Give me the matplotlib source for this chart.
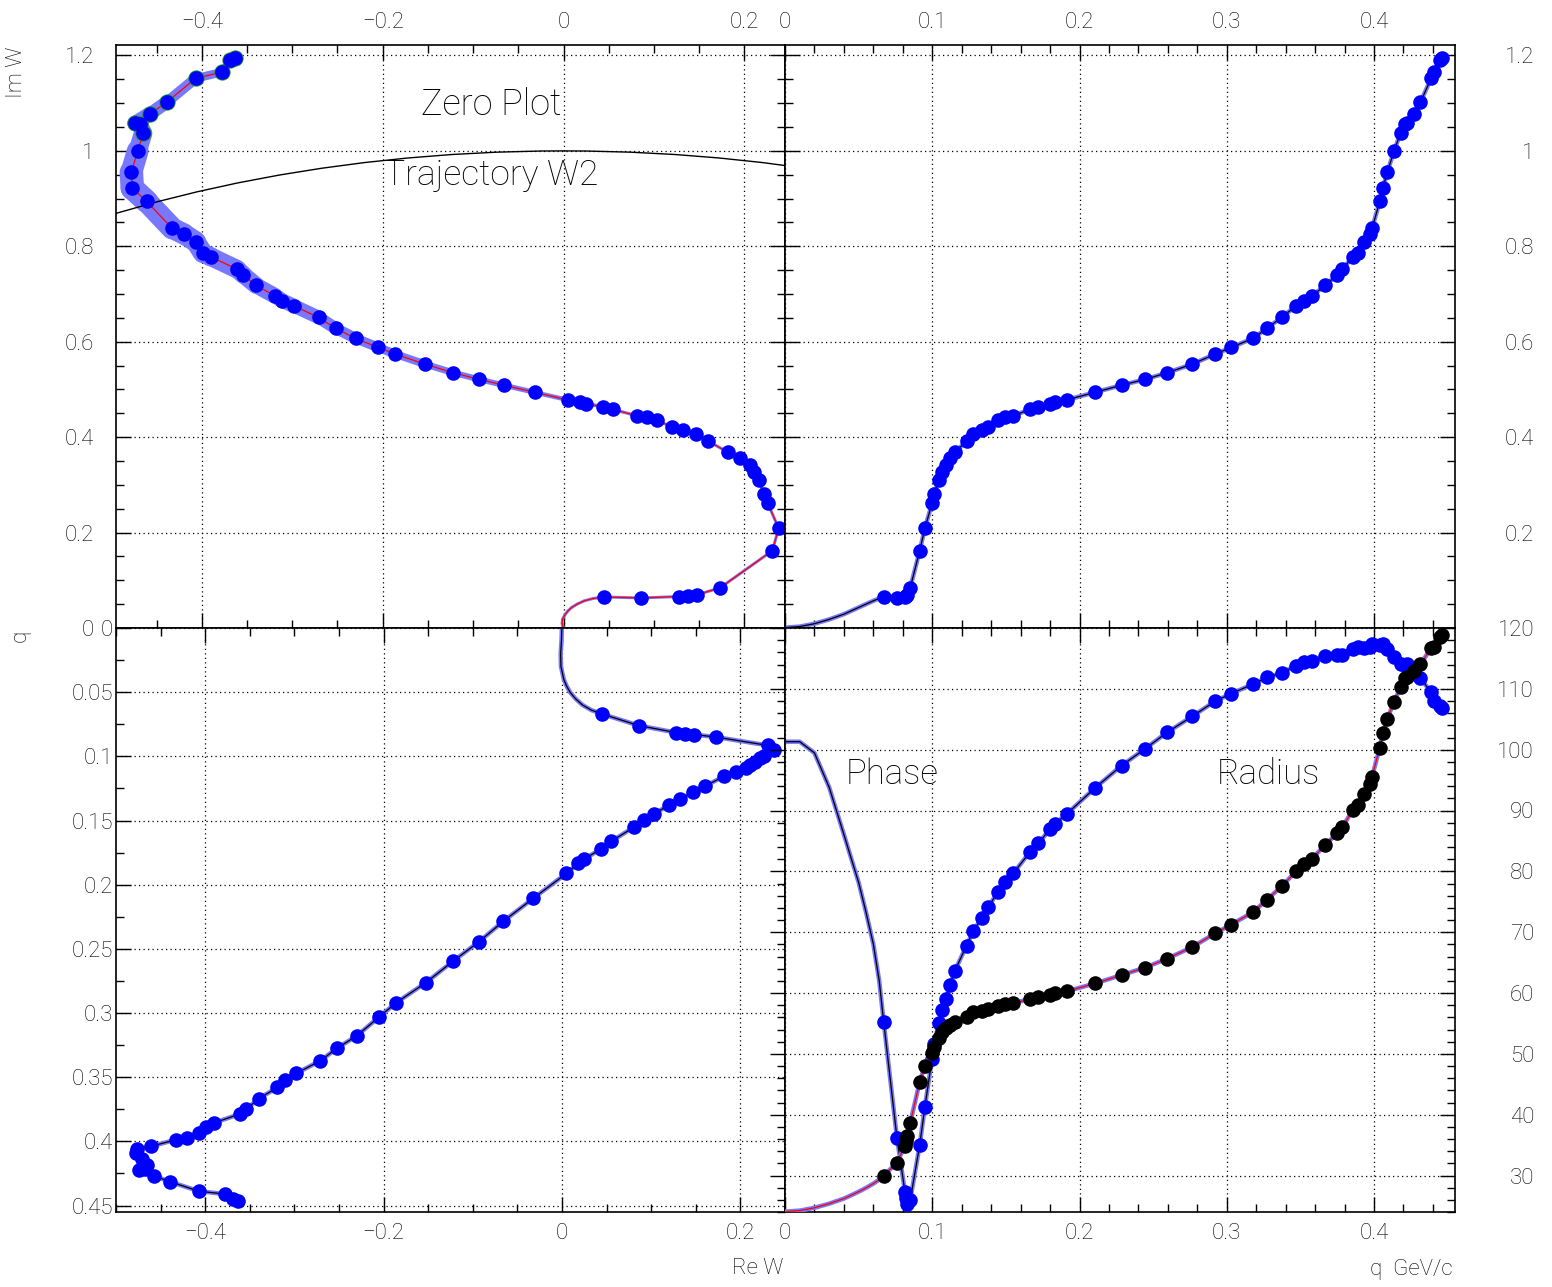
import numpy as np
import matplotlib.pyplot as plt
from matplotlib.ticker import MultipleLocator, FuncFormatter
from matplotlib.collections import LineCollection
from matplotlib.patches import Circle

plt.rcParams['font.family'] = ['Roboto', 'DejaVu Sans']
plt.rcParams['font.weight'] = 'light'

# smooth part of the zero trajectory below the first measured point
q_fit = [0.001, 0.01, 0.02, 0.03, 0.04, 0.045, 0.05, 0.055, 0.06, 0.064]
re_fit = [-0.0002, -0.0006, -0.0015, -0.0012, 0.002, 0.005, 0.009, 0.015, 0.023, 0.033]
im_fit = [0.001, 0.003, 0.009, 0.018, 0.029, 0.036, 0.043, 0.050, 0.057, 0.062]

# measured zeros W(q)
q_pts = [0.067, 0.076, 0.0815, 0.0824, 0.083, 0.085, 0.0915, 0.095, 0.0998, 0.1012,
         0.1045, 0.1068, 0.109, 0.112, 0.1154, 0.1233, 0.1278, 0.1335, 0.138, 0.1448,
         0.1494, 0.155, 0.1663, 0.172, 0.18, 0.1833, 0.1912, 0.2105, 0.2286, 0.2444,
         0.2595, 0.2765, 0.292, 0.303, 0.3177, 0.3273, 0.3372, 0.347, 0.3525, 0.358,
         0.3666, 0.375, 0.3786, 0.3855, 0.3888, 0.3935, 0.3973, 0.3987, 0.4039, 0.406,
         0.409, 0.4136, 0.418, 0.4212, 0.4225, 0.427, 0.4315, 0.4388, 0.441, 0.4445,
         0.4465]
re_pts = [0.045, 0.086, 0.128, 0.138, 0.148, 0.173, 0.231, 0.238, 0.226, 0.222,
          0.216, 0.211, 0.206, 0.195, 0.182, 0.160, 0.147, 0.132, 0.120, 0.103,
          0.092, 0.081, 0.055, 0.044, 0.025, 0.018, 0.005, -0.032, -0.066, -0.093,
          -0.122, -0.153, -0.186, -0.205, -0.230, -0.252, -0.271, -0.298, -0.311, -0.319,
          -0.340, -0.354, -0.361, -0.390, -0.399, -0.407, -0.420, -0.433, -0.461, -0.477,
          -0.478, -0.471, -0.465, -0.468, -0.474, -0.457, -0.439, -0.407, -0.378, -0.369,
          -0.363]
im_pts = [0.065, 0.063, 0.066, 0.068, 0.070, 0.084, 0.162, 0.209, 0.261, 0.280,
          0.310, 0.328, 0.342, 0.356, 0.368, 0.392, 0.407, 0.415, 0.422, 0.435,
          0.442, 0.445, 0.458, 0.464, 0.4696, 0.473, 0.478, 0.494, 0.509, 0.521,
          0.535, 0.553, 0.574, 0.588, 0.607, 0.628, 0.651, 0.675, 0.686, 0.696,
          0.718, 0.740, 0.752, 0.778, 0.786, 0.810, 0.826, 0.838, 0.894, 0.922,
          0.955, 1.000, 1.037, 1.057, 1.058, 1.078, 1.102, 1.152, 1.165, 1.190,
          1.195]

q_pts = np.array(q_pts)
re_pts = np.array(re_pts)
im_pts = np.array(im_pts)
q_all = np.concatenate([q_fit, q_pts])
re_all = np.concatenate([re_fit, re_pts])
im_all = np.concatenate([im_fit, im_pts])

# phase in degrees and modulus of W
phase_all = np.degrees(np.arctan2(im_all, re_all))
phase_pts = np.degrees(np.arctan2(im_pts, re_pts))
radius_all = np.hypot(re_all, im_all)
radius_pts = np.hypot(re_pts, im_pts)

BLUE = '#0000ff'
BAND = '#7878ff'
MS = 10.5
GRID = dict(color='black', linestyle=(0, (1, 2.6)), linewidth=0.9)


def fmt(v, pos):
    s = '%g' % round(v, 6)
    return s.replace('-', '\u2212')


def fmt_nozero(v, pos):
    return '' if abs(v) < 1e-9 else fmt(v, pos)


def frame(ax):
    ax.tick_params(which='both', direction='in', top=True, bottom=True,
                   left=True, right=True, labelsize=16, width=1.0)
    ax.tick_params(which='major', length=11)
    ax.tick_params(which='minor', length=5.5)
    ax.grid(which='major', **GRID)
    ax.set_axisbelow(True)
    for sp in ax.spines.values():
        sp.set_linewidth(1.2)
    ax.xaxis.set_major_formatter(FuncFormatter(fmt))
    ax.yaxis.set_major_formatter(FuncFormatter(fmt))


def band(ax, x, y, widths, color):
    pts = np.column_stack([x, y])
    segs = np.stack([pts[:-1], pts[1:]], axis=1)
    w = 0.5 * (widths[:-1] + widths[1:])
    lc = LineCollection(segs, linewidths=w, colors=color, capstyle='round',
                        joinstyle='round', zorder=1)
    ax.add_collection(lc)


fig = plt.figure(figsize=(15.52, 12.87), dpi=100)
W_px, H_px = 1552, 1287
x0, xm, x1 = 116, 785, 1455
y0, ym, y1 = 45, 628, 1212
left_w = (xm - x0) / W_px
right_w = (x1 - xm) / W_px
top_h = (ym - y0) / H_px
bot_h = (y1 - ym) / H_px
rect_tl = [x0 / W_px, 1 - ym / H_px, left_w, top_h]
rect_tr = [xm / W_px, 1 - ym / H_px, right_w, top_h]
rect_bl = [x0 / W_px, 1 - y1 / H_px, left_w, bot_h]
rect_br = [xm / W_px, 1 - y1 / H_px, right_w, bot_h]

ax_tl = fig.add_axes(rect_tl)
ax_tr = fig.add_axes(rect_tr)
ax_bl = fig.add_axes(rect_bl)
ax_br = fig.add_axes(rect_br)

# ---- top left: zero plot, Im W against Re W
ax = ax_tl
frame(ax)
ax.set_xlim(-0.495, 0.245)
ax.set_ylim(0, 1.222)
ax.xaxis.set_major_locator(MultipleLocator(0.2))
ax.xaxis.set_minor_locator(MultipleLocator(0.05))
ax.yaxis.set_major_locator(MultipleLocator(0.2))
ax.yaxis.set_minor_locator(MultipleLocator(0.05))
ax.tick_params(axis='x', labeltop=True, labelbottom=False, pad=9)
ax.tick_params(axis='y', labelleft=True, pad=16)
band_px = np.interp(im_all, [0.0, 0.45, 0.55, 0.65, 0.75, 0.85, 0.95, 1.05, 1.15, 1.22],
                    [3, 3, 7, 13, 18, 22, 24, 16, 9, 5])
band(ax, re_all, im_all, band_px / 1.389, BAND)
ax.add_patch(Circle((0, 0), 1.0, fill=False, edgecolor='black', linewidth=1.0, zorder=2))
ax.plot(re_all, im_all, color='red', lw=0.9, zorder=3)
high = im_pts > 1.03
ax.plot(re_pts[high], im_pts[high], 'o', color='#1c9a1c', ms=MS + 1.2, mew=0, zorder=4)
ax.plot(re_pts, im_pts, 'o', color=BLUE, ms=MS, mew=0, zorder=5)
ax.text(-0.08, 1.096, 'Zero Plot', fontsize=26, ha='center', va='center')
ax.text(-0.08, 0.950, 'Trajectory W2', fontsize=25.5, ha='center', va='center')

# ---- top right: Im W against q
ax = ax_tr
frame(ax)
ax.set_xlim(0, 0.455)
ax.set_ylim(0, 1.222)
ax.xaxis.set_major_locator(MultipleLocator(0.1))
ax.xaxis.set_minor_locator(MultipleLocator(0.02))
ax.yaxis.set_major_locator(MultipleLocator(0.2))
ax.yaxis.set_minor_locator(MultipleLocator(0.05))
ax.yaxis.set_major_formatter(FuncFormatter(fmt_nozero))
ax.tick_params(axis='x', labeltop=True, labelbottom=False, pad=9)
ax.tick_params(axis='y', labelleft=False, labelright=True, pad=57)
ax.plot(q_all, im_all, color=BAND, lw=3.2, zorder=1)
ax.plot(q_all, im_all, color='black', lw=0.9, zorder=3)
ax.plot(q_pts, im_pts, 'o', color=BLUE, ms=MS, mew=0, zorder=5)

# ---- bottom left: q against Re W
ax = ax_bl
frame(ax)
ax.set_xlim(-0.5, 0.25)
ax.set_ylim(0.455, 0)
ax.xaxis.set_major_locator(MultipleLocator(0.2))
ax.xaxis.set_minor_locator(MultipleLocator(0.05))
ax.yaxis.set_major_locator(MultipleLocator(0.05))
ax.yaxis.set_minor_locator(MultipleLocator(0.025))
ax.tick_params(which='both', right=False)
ax.tick_params(axis='x', pad=8)
ax.tick_params(axis='y', pad=2)
ax.plot(re_all, q_all, color=BAND, lw=3.2, zorder=1)
ax.plot(re_all, q_all, color='black', lw=0.9, zorder=3)
ax.plot(re_pts, q_pts, 'o', color=BLUE, ms=MS, mew=0, zorder=5)

# ---- bottom right: phase (deg) and radius against q
ax = ax_br
frame(ax)
ax.set_xlim(0, 0.455)
ax.set_ylim(24, 120)
ax.xaxis.set_major_locator(MultipleLocator(0.1))
ax.xaxis.set_minor_locator(MultipleLocator(0.02))
ax.yaxis.set_major_locator(MultipleLocator(10))
ax.yaxis.set_minor_locator(MultipleLocator(2))
ax.tick_params(which='both', left=False)
ax.tick_params(axis='x', pad=8)
ax.tick_params(axis='y', labelleft=False, labelright=True, pad=57)
ax.plot(q_all, phase_all, color=BAND, lw=3.2, zorder=1)
ax.plot(q_all, phase_all, color='black', lw=0.9, zorder=3)
ax.plot(q_pts, phase_pts, 'o', color=BLUE, ms=MS, mew=0, zorder=5)
ax.text(0.073, 95.9, 'Phase', fontsize=25, ha='center', va='center')
ax.text(0.328, 95.9, 'Radius', fontsize=25, ha='center', va='center')

# radius drawn on its own unlabelled scale over the same frame
ax_rad = fig.add_axes(rect_br)
ax_rad.set_xlim(0, 0.455)
ax_rad.set_ylim(0, 1.265)
ax_rad.axis('off')
ax_rad.plot(q_all, radius_all, color=BAND, lw=3.2, zorder=1)
ax_rad.plot(q_all, radius_all, color='red', lw=0.9, zorder=3)
ax_rad.plot(q_pts, radius_pts, 'o', color='black', ms=MS, mew=0, zorder=6)

# phase ticks along the left edge, pointing outwards into the next pad
ax_lt = fig.add_axes(rect_br)
ax_lt.patch.set_visible(False)
for sp in ax_lt.spines.values():
    sp.set_visible(False)
ax_lt.set_ylim(24, 120)
ax_lt.set_xticks([])
ax_lt.yaxis.set_major_locator(MultipleLocator(10))
ax_lt.yaxis.set_minor_locator(MultipleLocator(2))
ax_lt.tick_params(which='both', direction='out', left=True, right=False,
                  labelleft=False, labelright=False, width=1.0)
ax_lt.tick_params(which='major', length=11)
ax_lt.tick_params(which='minor', length=5.5)

# right-hand labels are right aligned
fig.canvas.draw()
for a in (ax_tr, ax_br):
    for t in a.yaxis.get_major_ticks():
        t.label2.set_horizontalalignment('right')

fig.text(17 / W_px, 1 - 72 / H_px, 'Im W', rotation=90, fontsize=16,
         ha='center', va='center')
fig.text(20 / W_px, 1 - 636 / H_px, 'q', rotation=90, fontsize=16,
         ha='center', va='center')
fig.text(783 / W_px, 1 - 1268 / H_px, 'Re W', fontsize=16, ha='right', va='center')
fig.text(1453 / W_px, 1 - 1270 / H_px, 'q  GeV/c', fontsize=16, ha='right', va='center')

fig.savefig('out.png', dpi=100)
